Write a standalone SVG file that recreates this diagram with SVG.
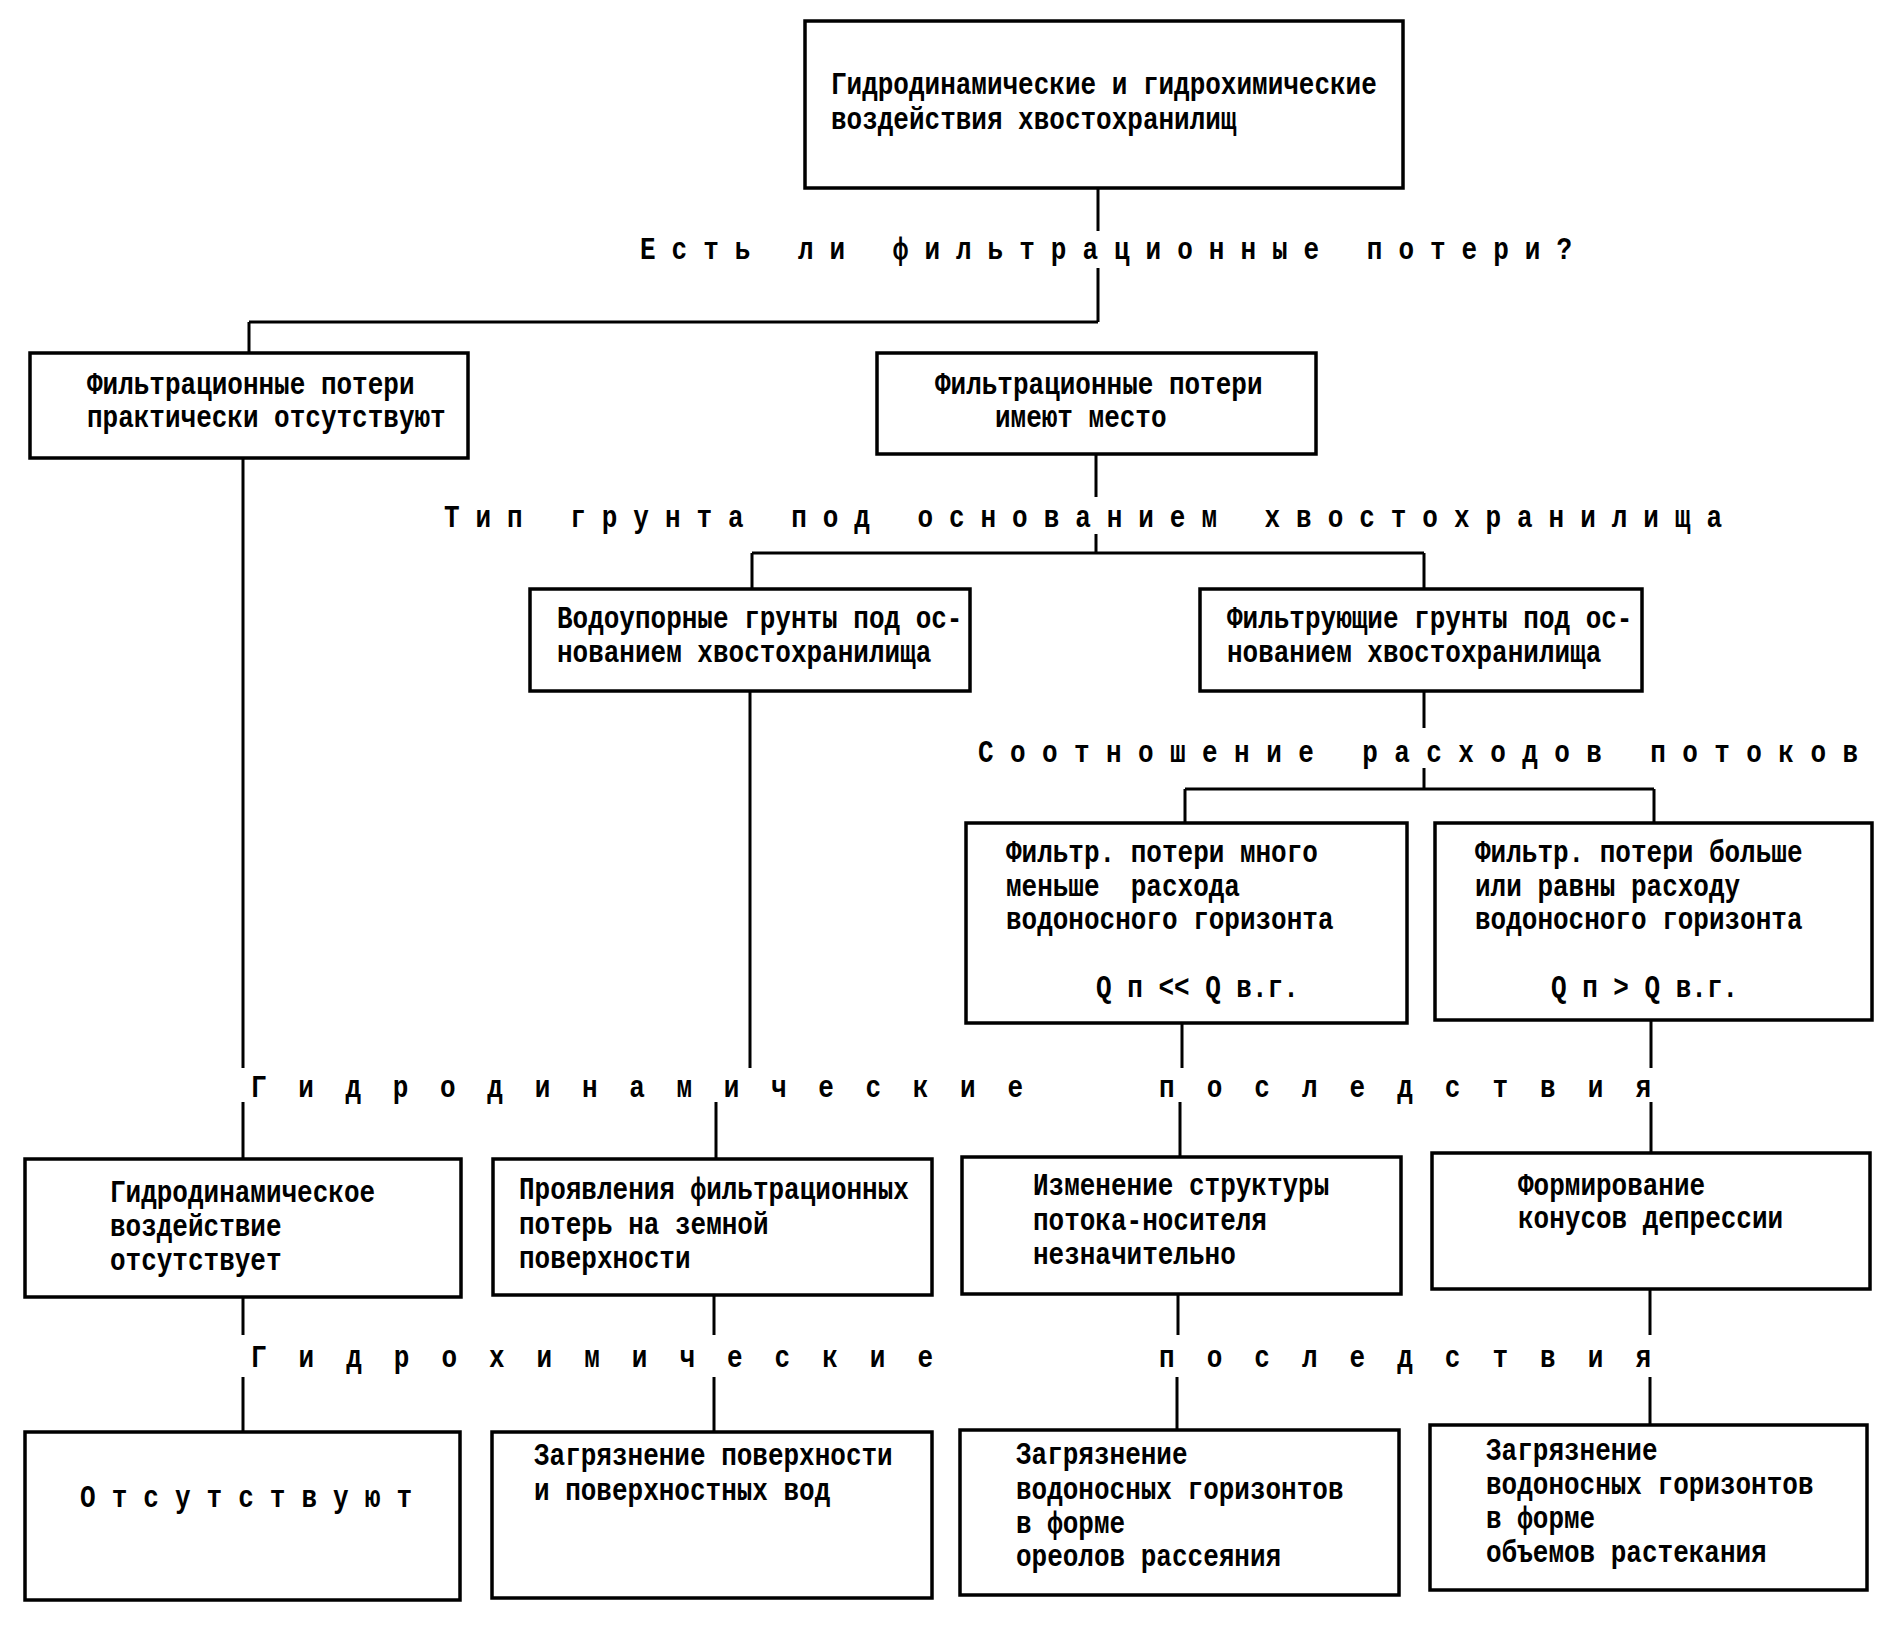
<svg xmlns="http://www.w3.org/2000/svg" width="1903" height="1626" viewBox="0 0 1903 1626">
<style>
.box{fill:#fff;stroke:#000;stroke-width:3.5}
.ln{stroke:#000;stroke-width:3;fill:none}
text{font-family:"Liberation Mono","DejaVu Sans Mono",monospace;font-weight:bold;font-size:26px;fill:#000;transform-box:fill-box;transform-origin:center;transform:scaleY(1.18)}
</style>
<rect width="1903" height="1626" fill="#fff"/>
<g id="connectors">
<path class="ln" d="M1098 188V231M1098 268V322M249 322H1098M249 322V353"/>
<path class="ln" d="M243 458V1068M243 1102V1159M243 1297V1335M243 1377V1432"/>
<path class="ln" d="M1096 454V497M1096 534V553M752 553H1424M752 553V589M1424 553V589"/>
<path class="ln" d="M750 691V1068M716 1102V1159M714 1295V1335M714 1377V1432"/>
<path class="ln" d="M1424 691V728M1424 768V789M1185 789H1654M1185 789V823M1654 789V823"/>
<path class="ln" d="M1182 1023V1068M1180 1102V1157M1178 1294V1335M1177 1377V1430"/>
<path class="ln" d="M1651 1020V1068M1651 1102V1153M1650 1289V1335M1650 1377V1425"/>
</g>
<g id="labels">
<text x="640" y="258" textLength="932" lengthAdjust="spacing">Есть ли фильтрационные потери?</text>
<text x="444" y="526" textLength="1278" lengthAdjust="spacing">Тип грунта под основанием хвостохранилища</text>
<text x="978" y="761" textLength="880" lengthAdjust="spacing">Соотношение расходов потоков</text>
<text x="251" y="1096" textLength="772" lengthAdjust="spacing">Гидродинамические</text>
<text x="1159" y="1096" textLength="492" lengthAdjust="spacing">последствия</text>
<text x="251" y="1366" textLength="682" lengthAdjust="spacing">Гидрохимические</text>
<text x="1159" y="1366" textLength="492" lengthAdjust="spacing">последствия</text>
</g>
<g id="n-top">
<rect class="box" x="805" y="21" width="598" height="167"/>
<text x="831" y="93">Гидродинамические и гидрохимические</text>
<text x="831" y="128">воздействия хвостохранилищ</text>
</g>
<g id="n-no-loss">
<rect class="box" x="30" y="353" width="438" height="105"/>
<text x="87" y="393">Фильтрационные потери</text>
<text x="87" y="426">практически отсутствуют</text>
</g>
<g id="n-loss">
<rect class="box" x="877" y="353" width="439" height="101"/>
<text x="935" y="393">Фильтрационные потери</text>
<text x="995" y="426">имеют место</text>
</g>
<g id="n-waterproof">
<rect class="box" x="530" y="589" width="440" height="102"/>
<text x="557" y="627">Водоупорные грунты под ос-</text>
<text x="557" y="661">нованием хвостохранилища</text>
</g>
<g id="n-filtering">
<rect class="box" x="1200" y="589" width="442" height="102"/>
<text x="1227" y="627">Фильтрующие грунты под ос-</text>
<text x="1227" y="661">нованием хвостохранилища</text>
</g>
<g id="n-less">
<rect class="box" x="966" y="823" width="441" height="200"/>
<text x="1006" y="861">Фильтр. потери много</text>
<text x="1006" y="895" xml:space="preserve">меньше  расхода</text>
<text x="1006" y="928">водоносного горизонта</text>
<text x="1096" y="996">Q п &lt;&lt; Q в.г.</text>
</g>
<g id="n-more">
<rect class="box" x="1435" y="823" width="437" height="197"/>
<text x="1475" y="861">Фильтр. потери больше</text>
<text x="1475" y="895">или равны расходу</text>
<text x="1475" y="928">водоносного горизонта</text>
<text x="1551" y="996">Q п &gt; Q в.г.</text>
</g>
<g id="n-hd-none">
<rect class="box" x="25" y="1159" width="436" height="138"/>
<text x="110" y="1201">Гидродинамическое</text>
<text x="110" y="1235">воздействие</text>
<text x="110" y="1269">отсутствует</text>
</g>
<g id="n-hd-surface">
<rect class="box" x="493" y="1159" width="439" height="136"/>
<text x="519" y="1198">Проявления фильтрационных</text>
<text x="519" y="1233">потерь на земной</text>
<text x="519" y="1267">поверхности</text>
</g>
<g id="n-hd-structure">
<rect class="box" x="962" y="1157" width="439" height="137"/>
<text x="1033" y="1194">Изменение структуры</text>
<text x="1033" y="1229">потока-носителя</text>
<text x="1033" y="1263">незначительно</text>
</g>
<g id="n-hd-cones">
<rect class="box" x="1432" y="1153" width="438" height="136"/>
<text x="1518" y="1194">Формирование</text>
<text x="1518" y="1227">конусов депрессии</text>
</g>
<g id="n-hc-none">
<rect class="box" x="25" y="1432" width="435" height="168"/>
<text x="80" y="1506" textLength="332" lengthAdjust="spacing">Отсутствуют</text>
</g>
<g id="n-hc-surface">
<rect class="box" x="492" y="1432" width="440" height="166"/>
<text x="534" y="1464">Загрязнение поверхности</text>
<text x="534" y="1499">и поверхностных вод</text>
</g>
<g id="n-hc-halo">
<rect class="box" x="960" y="1430" width="439" height="165"/>
<text x="1016" y="1463">Загрязнение</text>
<text x="1016" y="1498">водоносных горизонтов</text>
<text x="1016" y="1532">в форме</text>
<text x="1016" y="1565">ореолов рассеяния</text>
</g>
<g id="n-hc-volume">
<rect class="box" x="1430" y="1425" width="437" height="165"/>
<text x="1486" y="1459">Загрязнение</text>
<text x="1486" y="1493">водоносных горизонтов</text>
<text x="1486" y="1527">в форме</text>
<text x="1486" y="1561">объемов растекания</text>
</g>
</svg>
